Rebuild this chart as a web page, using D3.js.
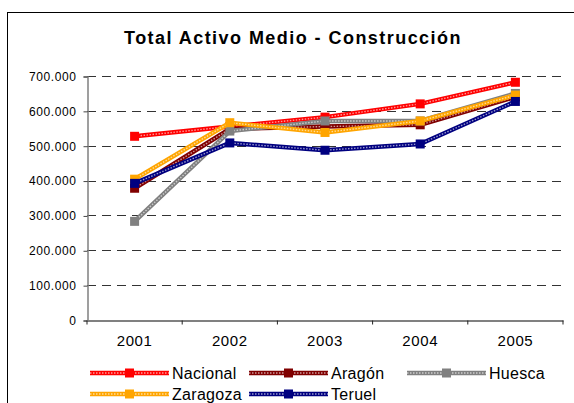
<!DOCTYPE html>
<html><head><meta charset="utf-8">
<script src="https://cdn.jsdelivr.net/npm/d3@7"></script>
<style>body{margin:0;background:#fff}svg{display:block}text{font-family:"Liberation Sans",Arial,sans-serif;fill:#000}</style>
</head><body>
<svg id="c" width="574" height="403"></svg>
<script>
const years = ["2001","2002","2003","2004","2005"];
const seriesNames = ["Nacional","Aragón","Huesca","Zaragoza","Teruel"];
const seriesColors = ["#ff0000","#800000","#808080","#ffa500","#000080"];
const nacional = [527000, 555000, 582000, 620000, 682000];
const aragon   = [378000, 548000, 555000, 560000, 640000];
const huesca   = [283000, 542000, 571000, 571000, 650000];
const zaragoza = [404000, 566000, 538000, 571000, 645000];
const teruel   = [392000, 508000, 487000, 505000, 627000];
const yTicks = [0,100000,200000,300000,400000,500000,600000,700000];
const title = "Total Activo Medio - Construcción";

const allSeries = [nacional, aragon, huesca, zaragoza, teruel];
const svg = d3.select("#c");
svg.append("rect").attr("x",7.5).attr("y",12.5).attr("width",600).attr("height",420)
  .attr("fill","#fff").attr("stroke","#000").attr("stroke-width",1);

const x = d3.scaleBand().domain(years).range([87,563]);
const y = d3.scaleLinear().domain([0,700000]).range([320,76]);
const fmt = v => v===0 ? "0" : d3.format(",")(v).replace(/,/g,".");

svg.append("text").attr("x",293).attr("y",44).attr("text-anchor","middle")
  .style("font-size","18px").style("font-weight","bold").style("letter-spacing","1.45px").text(title);

// gridlines
svg.append("g").selectAll("line").data(yTicks.filter(d=>d>0)).join("line")
  .attr("x1",87).attr("x2",563).attr("y1",d=>Math.round(y(d))+0.5).attr("y2",d=>Math.round(y(d))+0.5)
  .attr("stroke","#333").attr("stroke-dasharray","9,6");

// y axis
const ya = svg.append("g").attr("transform","translate(87.5,0.5)")
  .call(d3.axisLeft(y).tickValues(yTicks).tickFormat(fmt).tickSize(4).tickPadding(7));
ya.select(".domain").attr("stroke","#808080").attr("stroke-width",1.5);
ya.selectAll(".tick line").attr("stroke","#444");
ya.selectAll("text").style("font-size","12px").style("letter-spacing","0.6px")
  .style("font-family","'Liberation Sans',Arial,sans-serif");

// x axis
const xa = svg.append("g").attr("transform","translate(0,320.5)")
  .call(d3.axisBottom(x).tickSize(0).tickPadding(15));
xa.select(".domain").attr("stroke","#808080").attr("stroke-width",2);
xa.selectAll("text").style("font-size","15px").style("letter-spacing","0.6px")
  .style("font-family","'Liberation Sans',Arial,sans-serif");
xa.selectAll("line.b").data(years.concat(["end"])).join("line").attr("class","b")
  .attr("x1",(d,i)=> i<years.length ? x(d) : x.range()[1])
  .attr("x2",(d,i)=> i<years.length ? x(d) : x.range()[1])
  .attr("y1",0).attr("y2",4).attr("stroke","#222");

const cx = d => x(d) + x.bandwidth()/2;
const line = d3.line().x((d,i)=>cx(years[i])).y(d=>y(d));

function drawPatternLine(g, path, color){
  g.append("path").attr("d",path).attr("fill","none").attr("stroke",color).attr("stroke-width",4.5).attr("stroke-linejoin","round");
  g.append("path").attr("d",path).attr("fill","none").attr("stroke","#fff").attr("stroke-opacity",0.6)
    .attr("stroke-width",1.4).attr("stroke-dasharray","1.5,1.5");
}

allSeries.forEach((vals,si)=>{
  const g = svg.append("g");
  drawPatternLine(g, line(vals), seriesColors[si]);
  g.selectAll("rect").data(vals).join("rect")
    .attr("x",(d,i)=>cx(years[i])-4.5).attr("y",d=>y(d)-4.5)
    .attr("width",9).attr("height",9).attr("fill",seriesColors[si]);
});

// legend
const legPos = [[90,373],[249,373],[407,373],[90,394],[249,394]];
seriesNames.forEach((n,i)=>{
  const [lx,ly] = legPos[i];
  const g = svg.append("g");
  drawPatternLine(g, d3.line()([[lx,ly],[lx+79,ly]]), seriesColors[i]);
  g.append("rect").attr("x",lx+39.5-4.5).attr("y",ly-4.5).attr("width",9).attr("height",9).attr("fill",seriesColors[i]);
  g.append("text").attr("x",lx+82).attr("y",ly+5.5).style("font-size","16px").style("letter-spacing","0.3px").text(n);
});
</script>
</body></html>
